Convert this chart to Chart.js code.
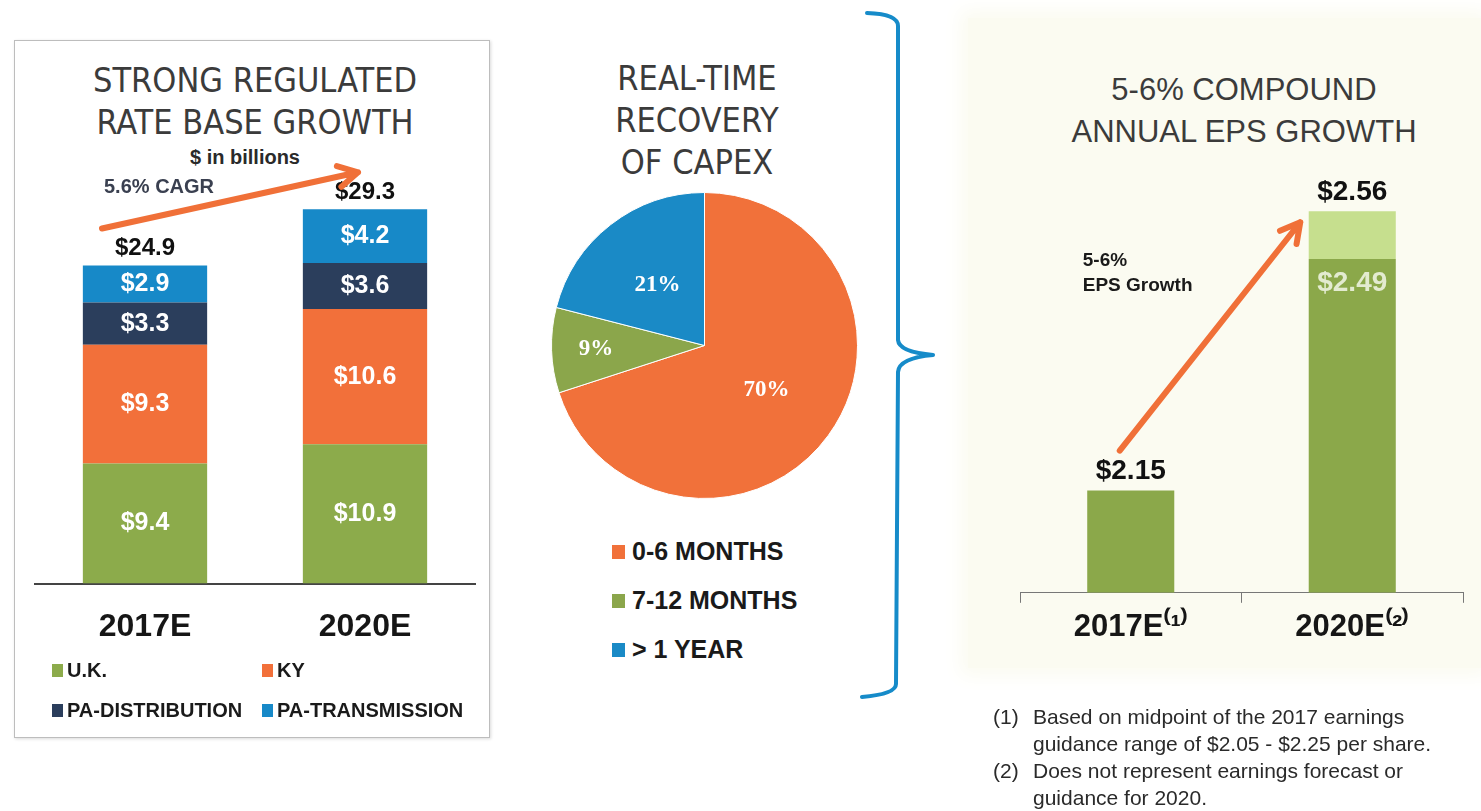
<!DOCTYPE html>
<html>
<head>
<meta charset="utf-8">
<title>Rate base and EPS growth</title>
<script src="https://cdn.jsdelivr.net/npm/chart.js@4.4.1/dist/chart.umd.min.js"></script>
<style>
  html, body { margin: 0; padding: 0; background: #fff; }
  body { width: 1481px; height: 811px; position: relative; overflow: hidden;
         font-family: "Liberation Sans", Arial, sans-serif; color: #1a1a1a; }
  .box { position: absolute; left: 14px; top: 40px; width: 474px; height: 696px;
         border: 1px solid #bdbdbd; box-shadow: 1px 1px 3px rgba(0,0,0,0.15); }
  .cream { position: absolute; left: 968px; top: 18px; width: 513px; height: 650px;
           background: #fbfbf1; box-shadow: 0 0 18px 8px #fbfbf1; }
  .wrap { position: absolute; }
  .title { position: absolute; text-align: center; color: #3b3b3b; line-height: 42px;
           font-family: "Liberation Sans Narrow", "Arial Narrow", "DejaVu Sans Condensed", sans-serif;
           font-size: 34px; }
  .sub { position: absolute; text-align: center; font-weight: bold; font-size: 20px; color: #2a2a2a; }
  .legend { position: absolute; display: grid; font-weight: bold; }
  .legend .item { display: flex; align-items: center; white-space: nowrap; }
  .legend .sw { display: inline-block; flex: none; }
  .notes { position: absolute; left: 993px; top: 703px; font-size: 21px; line-height: 27px; color: #2a2a2a; }
  .notes .row { display: flex; }
  .notes .num { width: 40px; flex: none; }
  svg { position: absolute; left: 0; top: 0; }
</style>
</head>
<body>

<div class="box"></div>
<div class="cream"></div>

<div class="title" style="left:55px; top:59px; width:400px;">STRONG REGULATED<br>RATE BASE GROWTH</div>
<div class="sub" style="left:145px; top:145px; width:200px; line-height:24px;">$ in billions</div>

<div class="title" style="left:597px; top:57px; width:200px;">REAL-TIME<br>RECOVERY<br>OF CAPEX</div>

<div class="title" style="left:1044px; top:69px; width:400px; font-family:'Liberation Sans', Arial, sans-serif; font-size:31px;">5-6% COMPOUND<br>ANNUAL EPS GROWTH</div>

<div class="wrap" style="left:0; top:0; width:490px; height:740px;"><canvas id="rateBase"></canvas></div>
<div class="wrap" style="left:551px; top:192px; width:307px; height:307px;"><canvas id="capex"></canvas></div>
<div class="wrap" style="left:990px; top:0; width:491px; height:690px;"><canvas id="eps"></canvas></div>

<div class="legend" id="rateLegend" style="left:52px; top:650px; grid-template-columns:210px 210px; grid-auto-rows:40px; font-size:20px;"></div>
<div class="legend" id="capexLegend" style="left:612px; top:527px; grid-auto-rows:49px; font-size:25px;"></div>

<svg width="1481" height="811">
  <path d="M 867 13 Q 898 14 898 26 L 898 340 Q 899 352 933 355 Q 899 358 898 372 L 896 684 Q 896 694 862 697"
        fill="none" stroke="#168bc9" stroke-width="4" stroke-linecap="round" stroke-linejoin="round"/>
</svg>

<div class="notes">
  <div class="row"><span class="num">(1)</span><span>Based on midpoint of the 2017 earnings<br>guidance range of $2.05 - $2.25 per share.</span></div>
  <div class="row"><span class="num">(2)</span><span>Does not represent earnings forecast or<br>guidance for 2020.</span></div>
</div>

<script>
// rate base, $ billions
const rateCategories = ['2017E', '2020E'];
const ukValues = [9.4, 10.9];
const kyValues = [9.3, 10.6];
const paDistValues = [3.3, 3.6];
const paTransValues = [2.9, 4.2];
const rateSeriesNames = ['U.K.', 'KY', 'PA-DISTRIBUTION', 'PA-TRANSMISSION'];
const rateColors = ['#8cab4b', '#f2703a', '#2b3e5c', '#1789c8'];

// capex recovery, % of capex
const capexLabels = ['0-6 MONTHS', '7-12 MONTHS', '> 1 YEAR'];
const capexShares = [70, 9, 21];
const capexColors = ['#f1713a', '#8ba64b', '#1a8ac6'];

// EPS, $ per share
const epsCategories = ['2017E\u207D\u00B9\u207E', '2020E\u207D\u00B2\u207E'];
const epsMid = [2.15, 2.49];
const epsHigh = [null, 2.56];
const epsAxisMin = 2.0;
const epsAxisMax = 2.6;

const sans = '"Liberation Sans", Arial, sans-serif';
const arrowColor = '#f07038';

function drawArrow(ctx, x1, y1, x2, y2) {
  const ang = Math.atan2(y2 - y1, x2 - x1);
  const head = 22;
  ctx.save();
  ctx.strokeStyle = arrowColor;
  ctx.lineWidth = 6;
  ctx.lineCap = 'round';
  ctx.lineJoin = 'round';
  ctx.beginPath();
  ctx.moveTo(x1, y1);
  ctx.lineTo(x2, y2);
  ctx.moveTo(x2 - head * Math.cos(ang - 0.5), y2 - head * Math.sin(ang - 0.5));
  ctx.lineTo(x2, y2);
  ctx.lineTo(x2 - head * Math.cos(ang + 0.5), y2 - head * Math.sin(ang + 0.5));
  ctx.stroke();
  ctx.restore();
}

function buildLegend(el, names, colors, sw, gap) {
  names.forEach((name, i) => {
    const item = document.createElement('div');
    item.className = 'item';
    const box = document.createElement('span');
    box.className = 'sw';
    box.style.width = sw[0] + 'px';
    box.style.height = sw[1] + 'px';
    box.style.background = colors[i];
    box.style.marginRight = gap + 'px';
    const txt = document.createElement('span');
    txt.textContent = name;
    item.appendChild(box);
    item.appendChild(txt);
    el.appendChild(item);
  });
}

buildLegend(document.getElementById('rateLegend'), rateSeriesNames, rateColors, [11, 13], 4);
buildLegend(document.getElementById('capexLegend'), capexLabels, capexColors, [13, 14], 7);

const rateLabels = {
  id: 'rateLabels',
  afterDatasetsDraw(chart) {
    const ctx = chart.ctx;
    const sets = chart.data.datasets;
    ctx.save();
    ctx.textAlign = 'center';
    ctx.textBaseline = 'middle';
    ctx.font = 'bold 25px ' + sans;
    ctx.fillStyle = '#fff';
    sets.forEach((ds, i) => {
      chart.getDatasetMeta(i).data.forEach((bar, j) => {
        ctx.fillText('$' + ds.data[j].toFixed(1), bar.x, (bar.y + bar.base) / 2);
      });
    });
    const top = chart.getDatasetMeta(sets.length - 1).data;
    ctx.fillStyle = '#111';
    ctx.font = 'bold 24px ' + sans;
    top.forEach((bar, j) => {
      const total = sets.reduce((s, ds) => s + ds.data[j], 0);
      ctx.fillText('$' + total.toFixed(1), bar.x, bar.y - 17);
    });
    drawArrow(ctx, top[0].x - 43, top[0].y - 37, top[1].x - 7, top[1].y - 37);
    ctx.textAlign = 'left';
    ctx.fillStyle = '#3a4050';
    ctx.font = 'bold 20px ' + sans;
    ctx.fillText('5.6% CAGR', top[0].x - 41, top[0].y - 78);
    ctx.restore();
  }
};

new Chart(document.getElementById('rateBase'), {
  type: 'bar',
  data: {
    labels: rateCategories,
    datasets: [ukValues, kyValues, paDistValues, paTransValues].map((vals, i) => ({
      label: rateSeriesNames[i],
      data: vals,
      backgroundColor: rateColors[i],
      borderWidth: 0,
      barPercentage: 0.565,
      categoryPercentage: 1.0
    }))
  },
  options: {
    responsive: true,
    maintainAspectRatio: false,
    animation: false,
    layout: { padding: { left: 35, right: 15, top: 162, bottom: 70 } },
    plugins: { legend: { display: false }, tooltip: { enabled: false } },
    scales: {
      x: {
        stacked: true,
        grid: { display: false, drawTicks: false },
        border: { display: true, color: '#444', width: 2 },
        ticks: { padding: 24, color: '#161616', font: { family: sans, size: 32, weight: 'bold' } }
      },
      y: { stacked: true, display: false, min: 0, max: 33 }
    }
  },
  plugins: [rateLabels]
});

const capexLabelsPlugin = {
  id: 'capexLabels',
  afterDatasetsDraw(chart) {
    const ctx = chart.ctx;
    ctx.save();
    ctx.textAlign = 'center';
    ctx.textBaseline = 'middle';
    ctx.fillStyle = '#fff';
    ctx.font = 'bold 23px "Liberation Serif", "DejaVu Serif", serif';
    chart.getDatasetMeta(0).data.forEach((arc, i) => {
      const mid = (arc.startAngle + arc.endAngle) / 2;
      const r = arc.outerRadius * (capexShares[i] < 15 ? 0.71 : 0.5);
      ctx.fillText(capexShares[i] + '%', arc.x + Math.cos(mid) * r, arc.y + Math.sin(mid) * r);
    });
    ctx.restore();
  }
};

new Chart(document.getElementById('capex'), {
  type: 'pie',
  data: {
    labels: capexLabels,
    datasets: [{ data: capexShares, backgroundColor: capexColors, borderColor: '#fff', borderWidth: 1 }]
  },
  options: {
    responsive: true,
    maintainAspectRatio: false,
    animation: false,
    layout: { padding: 0 },
    plugins: { legend: { display: false }, tooltip: { enabled: false } }
  },
  plugins: [capexLabelsPlugin]
});

const epsLabels = {
  id: 'epsLabels',
  afterDatasetsDraw(chart) {
    const ctx = chart.ctx;
    const low = chart.getDatasetMeta(0).data;
    const high = chart.getDatasetMeta(1).data;
    ctx.save();
    ctx.textAlign = 'center';
    ctx.textBaseline = 'middle';
    ctx.font = 'bold 28px ' + sans;
    epsMid.forEach((v, j) => {
      const hasTop = epsHigh[j] != null;
      const bar = hasTop ? high[j] : low[j];
      ctx.fillStyle = '#111';
      ctx.fillText('$' + (hasTop ? epsHigh[j] : v).toFixed(2), bar.x, bar.y - 19);
      if (hasTop) {
        ctx.fillStyle = '#e3ebd0';
        ctx.fillText('$' + v.toFixed(2), low[j].x, low[j].y + 24);
      }
    });
    const a = low[0], b = high[1];
    drawArrow(ctx, a.x - 11, a.y - 40, b.x - 52, b.y + 11);
    ctx.textAlign = 'left';
    ctx.fillStyle = '#1a1a1a';
    ctx.font = 'bold 19px ' + sans;
    ctx.fillText('5-6%', a.x - 48, a.y - 230);
    ctx.fillText('EPS Growth', a.x - 48, a.y - 205);
    ctx.restore();
  }
};

new Chart(document.getElementById('eps'), {
  type: 'bar',
  data: {
    labels: epsCategories,
    datasets: [
      {
        label: 'EPS',
        data: epsMid,
        base: epsAxisMin,
        backgroundColor: '#8ba84a',
        borderWidth: 0,
        grouped: false,
        barPercentage: 0.393,
        categoryPercentage: 1.0
      },
      {
        label: 'EPS upper',
        data: epsHigh.map((v, i) => (v == null ? null : [epsMid[i], v])),
        backgroundColor: '#c6df8e',
        borderWidth: 0,
        grouped: false,
        barPercentage: 0.393,
        categoryPercentage: 1.0
      }
    ]
  },
  options: {
    responsive: true,
    maintainAspectRatio: false,
    animation: false,
    layout: { padding: { left: 30, right: 18, top: 184, bottom: 38 } },
    plugins: { legend: { display: false }, tooltip: { enabled: false } },
    scales: {
      x: {
        grid: { display: true, drawOnChartArea: false, drawTicks: true, tickLength: 10, color: '#777', offset: true },
        border: { display: true, color: '#777', width: 1 },
        ticks: { padding: 6, color: '#161616', font: { family: sans, size: 31, weight: 'bold' } }
      },
      y: { display: false, min: epsAxisMin, max: epsAxisMax }
    }
  },
  plugins: [epsLabels]
});
</script>
</body>
</html>
